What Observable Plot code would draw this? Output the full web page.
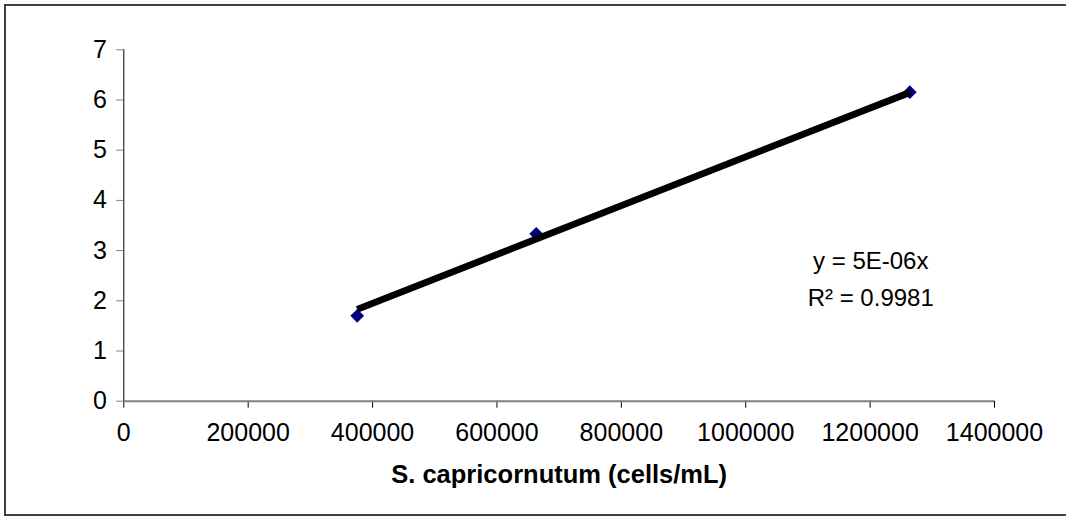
<!DOCTYPE html>
<html>
<head>
<meta charset="utf-8">
<script src="https://cdn.jsdelivr.net/npm/d3@7"></script>
<script src="https://cdn.jsdelivr.net/npm/@observablehq/plot@0.6"></script>
<style>
  html, body { margin: 0; padding: 0; background: #fff; overflow: hidden; width: 1066px; height: 516px; }
  #wrap { position: relative; width: 1066px; height: 516px; overflow: hidden; }
  #border { position: absolute; left: 4px; top: 4px; width: 1075px; height: 512px; border: 2px solid #404040; box-sizing: border-box; pointer-events: none; }
  svg { font-family: "Liberation Sans", Arial, sans-serif; display: block; }
</style>
</head>
<body>
<div id="wrap"><div id="border"></div></div>
<script>
// Data
const cellsPerML = [375300, 663100, 1263800];
const response = [1.70, 3.335, 6.155];
// Trendline (through origin) endpoints as drawn in the reference
const trendX = [375300, 1263800];
const trendY = [1.83, 6.15];
const xTicks = [0, 200000, 400000, 600000, 800000, 1000000, 1200000, 1400000];
const yTicks = [0, 1, 2, 3, 4, 5, 6, 7];
const xTitle = "S. capricornutum (cells/mL)";
const equationText = ["y = 5E-06x", "R² = 0.9981"];

const points = cellsPerML.map((x, i) => ({x, y: response[i]}));
const trend = trendX.map((x, i) => ({x, y: trendY[i]}));

const chart = Plot.plot({
  width: 1066,
  height: 516,
  marginLeft: 123.3,
  marginRight: 72,
  marginTop: 49.3,
  marginBottom: 115.3,
  style: {fontFamily: '"Liberation Sans", Arial, sans-serif', background: "transparent"},
  x: {domain: [0, 1400000]},
  y: {domain: [0, 7]},
  marks: [
    Plot.axisY({ticks: yTicks, tickSize: 7, tickPadding: 10, fontSize: 25, label: null, stroke: "#808080", tickFormat: d3.format("d")}),
    Plot.axisX({ticks: xTicks, tickSize: 7, tickPadding: 15, fontSize: 25, label: null, stroke: "#000", tickFormat: d3.format("d")}),
    Plot.ruleY([0], {stroke: "#808080", strokeWidth: 2}),
    Plot.ruleX([0], {y1: 0, y2: 7, stroke: "#000", strokeWidth: 1}),
    Plot.dot(points, {x: "x", y: "y", symbol: "diamond2", r: 6.2, fill: "#000080", stroke: "none"}),
    Plot.line(trend, {x: "x", y: "y", stroke: "#000", strokeWidth: 6.8, strokeLinecap: "butt"}),
    Plot.text([equationText.join("\n")], {x: () => 1201000, y: () => 1.892, lineAnchor: "bottom", textAnchor: "middle", fontSize: 24, lineHeight: 1.56, fill: "#000"}),
    Plot.text([xTitle], {frameAnchor: "bottom", dy: 81.3, lineAnchor: "bottom", fontSize: 25.5, fontWeight: "bold", fill: "#000"})
  ]
});
document.getElementById("wrap").prepend(chart);
</script>
</body>
</html>
